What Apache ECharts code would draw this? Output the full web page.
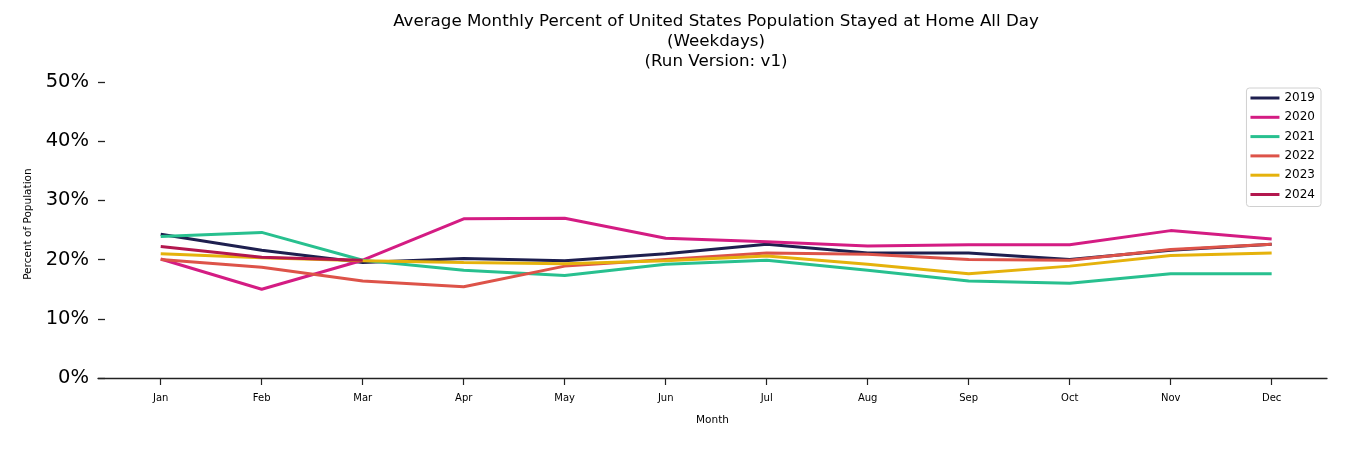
<!DOCTYPE html>
<html>
<head>
<meta charset="utf-8">
<script src="https://cdn.jsdelivr.net/npm/echarts@6/dist/echarts.min.js"></script>
<style>html,body{margin:0;padding:0;background:#fff}#c{width:1350px;height:450px}</style>
</head>
<body>
<div id="c"></div>
<script>
const months = ['Jan','Feb','Mar','Apr','May','Jun','Jul','Aug','Sep','Oct','Nov','Dec'];
const years = ['2019','2020','2021','2022','2023','2024'];
const v2019 = [24.3, 21.6, 19.5, 20.2, 19.8, 21.0, 22.6, 21.1, 21.1, 20.0, 21.6, 22.6];
const v2020 = [20.1, 15.0, 19.9, 26.9, 27.0, 23.6, 23.0, 22.3, 22.5, 22.5, 24.9, 23.5];
const v2021 = [23.9, 24.6, 19.9, 18.2, 17.3, 19.2, 19.9, 18.2, 16.4, 16.0, 17.6, 17.6];
const v2022 = [20.0, 18.7, 16.4, 15.4, 18.9, 20.0, 21.1, 20.9, 20.0, 19.9, 21.7, 22.6];
const v2023 = [21.0, 20.3, 19.8, 19.5, 19.3, 19.8, 20.6, 19.2, 17.6, 18.9, 20.7, 21.1];
const v2024 = [22.2, 20.4, 19.9];
const yTicks = [0, 10, 20, 30, 40, 50];
const colors = ['#1e1f4f', '#d41c83', '#28c08f', '#dd5349', '#e5b20c', '#b3174e'];
const values = [v2019, v2020, v2021, v2022, v2023, v2024];

const FONT = 'DejaVu Sans';
const chart = echarts.init(document.getElementById('c'), null, {renderer: 'canvas'});
chart.setOption({
  animation: false,
  backgroundColor: '#fff',
  title: {
    text: 'Average Monthly Percent of United States Population Stayed at Home All Day\n(Weekdays)\n(Run Version: v1)',
    left: 716, top: 12, textAlign: 'center', padding: 0,
    textStyle: {fontFamily: FONT, fontSize: 16.7, fontWeight: 'normal', color: '#000', lineHeight: 20}
  },
  legend: {
    orient: 'vertical', right: 29, top: 88,
    data: years,
    icon: 'rect', itemWidth: 29, itemHeight: 3, itemGap: 5.3,
    padding: [3, 6, 5, 4],
    borderColor: '#d0d0d0', borderWidth: 1, borderRadius: 3,
    textStyle: {fontFamily: FONT, fontSize: 12, color: '#000', lineHeight: 14}
  },
  grid: {left: 98, right: 23, top: 70.2, bottom: 72, containLabel: false},
  xAxis: {
    type: 'value', min: -0.621, max: 11.548,
    name: 'Month', nameLocation: 'middle', nameGap: 37,
    nameTextStyle: {fontFamily: FONT, fontSize: 10.5, color: '#000'},
    axisLine: {show: true, onZero: false, lineStyle: {color: '#222', width: 1.3}},
    axisTick: {show: true, length: 7, customValues: months.map((m, i) => i), lineStyle: {color: '#222', width: 1.2}},
    axisLabel: {customValues: months.map((m, i) => i), formatter: v => months[Math.round(v)] || '', fontFamily: FONT, fontSize: 10, color: '#000', margin: 15},
    splitLine: {show: false}
  },
  yAxis: {
    type: 'value', min: 0, max: 52,
    name: 'Percent of Population', nameLocation: 'middle', nameGap: 64,
    nameTextStyle: {fontFamily: FONT, fontSize: 10.5, color: '#000'},
    axisLine: {show: false, onZero: false},
    axisTick: {show: true, inside: true, length: 7, customValues: yTicks, lineStyle: {color: '#222', width: 1.3}},
    axisLabel: {customValues: yTicks, formatter: v => v + '%', fontFamily: FONT, fontSize: 19.5, color: '#000', margin: 9},
    splitLine: {show: false}
  },
  series: years.map((y, k) => ({
    name: y, type: 'line',
    data: values[k].map((v, i) => [i, v]),
    showSymbol: false, symbol: 'none',
    lineStyle: {color: colors[k], width: 3},
    itemStyle: {color: colors[k]},
    z: 2 + k
  }))
});
</script>
</body>
</html>
